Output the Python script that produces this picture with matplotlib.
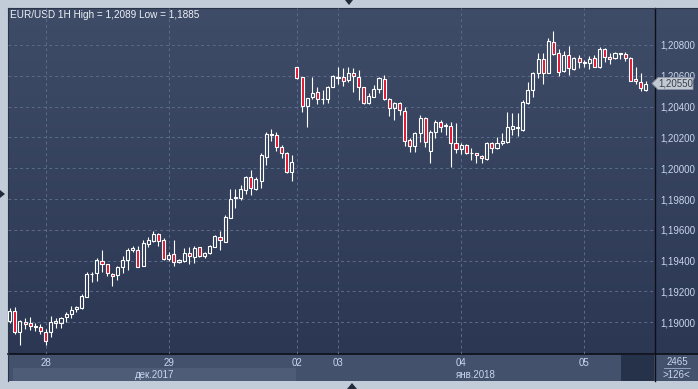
import numpy as np
import matplotlib
matplotlib.use("Agg")
import matplotlib.pyplot as plt
import matplotlib.patches as patches
from matplotlib.colors import LinearSegmentedColormap

plt.rcParams['font.family'] = ['Liberation Sans', 'DejaVu Sans']

# hourly EUR/USD candles
opens = [1.19008, 1.19071, 1.18939, 1.19004, 1.18993, 1.18967, 1.18967, 1.18935, 1.18935, 1.18998,
         1.18993, 1.19034, 1.19052, 1.19086, 1.19090, 1.19164, 1.19311, 1.19318, 1.19396, 1.19376,
         1.19311, 1.19307, 1.19361, 1.19402, 1.19471, 1.19467, 1.19368, 1.19506, 1.19530, 1.19571,
         1.19534, 1.19409, 1.19441, 1.19394, 1.19400, 1.19448, 1.19426, 1.19486, 1.19433, 1.19448,
         1.19491, 1.19552, 1.19523, 1.19679, 1.19805, 1.19805, 1.19859, 1.19945, 1.19865, 1.19919,
         1.20075, 1.20217, 1.20216, 1.20136, 1.20097, 1.19978, 1.20655, 1.20590, 1.20404, 1.20460,
         1.20493, 1.20449, 1.20447, 1.20529, 1.20594, 1.20590, 1.20573, 1.20616, 1.20594, 1.20525,
         1.20421, 1.20465, 1.20512, 1.20577, 1.20447, 1.20393, 1.20421, 1.20373, 1.20183, 1.20146,
         1.20226, 1.20323, 1.20114, 1.20237, 1.20297, 1.20278, 1.20274, 1.20161, 1.20122, 1.20150,
         1.20096, 1.20096, 1.20079, 1.20057, 1.20161, 1.20129, 1.20161, 1.20172, 1.20252, 1.20259,
         1.20248, 1.20421, 1.20511, 1.20615, 1.20706, 1.20620, 1.20817, 1.20745, 1.20630, 1.20734,
         1.20641, 1.20713, 1.20683, 1.20680, 1.20717, 1.20659, 1.20773, 1.20721, 1.20713, 1.20741,
         1.20741, 1.20717, 1.20579, 1.20561, 1.20507]
highs = [1.19090, 1.19102, 1.19015, 1.19026, 1.19036, 1.18998, 1.18987, 1.18957, 1.19043, 1.19030,
         1.19036, 1.19065, 1.19104, 1.19106, 1.19181, 1.19329, 1.19324, 1.19415, 1.19469, 1.19380,
         1.19318, 1.19367, 1.19430, 1.19480, 1.19495, 1.19495, 1.19534, 1.19552, 1.19593, 1.19578,
         1.19545, 1.19454, 1.19534, 1.19413, 1.19482, 1.19491, 1.19495, 1.19491, 1.19459, 1.19504,
         1.19567, 1.19593, 1.19697, 1.19865, 1.19863, 1.19891, 1.19950, 1.19989, 1.19945, 1.20101,
         1.20233, 1.20255, 1.20233, 1.20151, 1.20103, 1.20086, 1.20658, 1.20594, 1.20456, 1.20590,
         1.20529, 1.20508, 1.20534, 1.20605, 1.20655, 1.20648, 1.20659, 1.20648, 1.20638, 1.20529,
         1.20486, 1.20540, 1.20594, 1.20605, 1.20454, 1.20432, 1.20432, 1.20399, 1.20194, 1.20237,
         1.20345, 1.20334, 1.20248, 1.20313, 1.20313, 1.20295, 1.20302, 1.20291, 1.20161, 1.20157,
         1.20129, 1.20101, 1.20085, 1.20172, 1.20172, 1.20204, 1.20226, 1.20362, 1.20356, 1.20356,
         1.20442, 1.20561, 1.20626, 1.20745, 1.20745, 1.20847, 1.20890, 1.20773, 1.20760, 1.20795,
         1.20723, 1.20734, 1.20702, 1.20730, 1.20734, 1.20788, 1.20778, 1.20745, 1.20756, 1.20745,
         1.20752, 1.20721, 1.20659, 1.20615, 1.20566]
lows = [1.18995, 1.18922, 1.18850, 1.18957, 1.18950, 1.18944, 1.18922, 1.18850, 1.18907, 1.18965,
        1.18965, 1.19004, 1.19026, 1.19069, 1.19086, 1.19164, 1.19264, 1.19270, 1.19329, 1.19300,
        1.19238, 1.19274, 1.19322, 1.19339, 1.19458, 1.19360, 1.19365, 1.19491, 1.19523, 1.19495,
        1.19404, 1.19400, 1.19368, 1.19387, 1.19394, 1.19379, 1.19383, 1.19426, 1.19419, 1.19443,
        1.19487, 1.19469, 1.19520, 1.19676, 1.19740, 1.19794, 1.19833, 1.19826, 1.19859, 1.19869,
        1.20021, 1.20177, 1.20112, 1.20069, 1.19971, 1.19917, 1.20580, 1.20363, 1.20270, 1.20447,
        1.20415, 1.20415, 1.20426, 1.20525, 1.20545, 1.20534, 1.20562, 1.20493, 1.20443, 1.20417,
        1.20417, 1.20460, 1.20486, 1.20443, 1.20339, 1.20313, 1.20345, 1.20144, 1.20107, 1.20107,
        1.20172, 1.20140, 1.20031, 1.20194, 1.20237, 1.20215, 1.20010, 1.20096, 1.20092, 1.20092,
        1.20053, 1.20031, 1.20031, 1.20053, 1.20101, 1.20122, 1.20150, 1.20161, 1.20215, 1.20209,
        1.20243, 1.20415, 1.20464, 1.20587, 1.20550, 1.20615, 1.20734, 1.20598, 1.20622, 1.20605,
        1.20639, 1.20648, 1.20659, 1.20641, 1.20659, 1.20648, 1.20691, 1.20674, 1.20706, 1.20706,
        1.20695, 1.20568, 1.20550, 1.20501, 1.20501]
closes = [1.19073, 1.18939, 1.19011, 1.18987, 1.18976, 1.18978, 1.18944, 1.18881, 1.19000, 1.19008,
          1.19026, 1.19054, 1.19082, 1.19099, 1.19171, 1.19311, 1.19316, 1.19404, 1.19378, 1.19322,
          1.19298, 1.19359, 1.19402, 1.19467, 1.19480, 1.19361, 1.19513, 1.19534, 1.19571, 1.19530,
          1.19409, 1.19437, 1.19389, 1.19402, 1.19448, 1.19430, 1.19482, 1.19430, 1.19448, 1.19495,
          1.19560, 1.19534, 1.19681, 1.19800, 1.19811, 1.19863, 1.19945, 1.19870, 1.19928, 1.20086,
          1.20222, 1.20225, 1.20136, 1.20097, 1.19978, 1.20043, 1.20584, 1.20404, 1.20454, 1.20486,
          1.20447, 1.20451, 1.20529, 1.20601, 1.20584, 1.20568, 1.20616, 1.20599, 1.20529, 1.20421,
          1.20469, 1.20512, 1.20584, 1.20447, 1.20389, 1.20421, 1.20378, 1.20176, 1.20146, 1.20230,
          1.20323, 1.20172, 1.20237, 1.20302, 1.20269, 1.20274, 1.20161, 1.20122, 1.20150, 1.20096,
          1.20101, 1.20083, 1.20064, 1.20161, 1.20129, 1.20166, 1.20176, 1.20265, 1.20274, 1.20265,
          1.20432, 1.20511, 1.20615, 1.20706, 1.20615, 1.20825, 1.20739, 1.20626, 1.20734, 1.20648,
          1.20717, 1.20687, 1.20687, 1.20708, 1.20659, 1.20773, 1.20719, 1.20706, 1.20745, 1.20745,
          1.20713, 1.20568, 1.20568, 1.20518, 1.20550]

day_pos = [7, 31, 56, 64, 88, 112]
day_labels = ["28", "29", "02", "03", "04", "05"]
price_ticks = [1.190, 1.192, 1.194, 1.196, 1.198, 1.200, 1.202, 1.204, 1.206, 1.208]
title = "EUR/USD 1H High = 1,2089 Low = 1,1885"
months = ["дек.2017", "янв.2018"]

W, H = 698, 389
fig = plt.figure(figsize=(W / 100, H / 100), dpi=100)
fig.patch.set_facecolor("#c2ccd8")

# background layer in pixel coords
bg = fig.add_axes([0, 0, 1, 1], zorder=0)
bg.set_xlim(0, W)
bg.set_ylim(H, 0)
bg.axis("off")
grad = LinearSegmentedColormap.from_list("g", ["#3f4c67", "#2b3753"])
bg.imshow(np.linspace(0, 1, 256).reshape(-1, 1), cmap=grad, extent=(8, W, 354, 8), aspect="auto")
bg.add_patch(patches.Rectangle((8, 354), 690, 27, fc="#43516d", ec="none"))
bg.add_patch(patches.Rectangle((13, 368), 283, 13, fc="#4e5c78", ec="none"))
bg.add_patch(patches.Rectangle((621, 355), 33, 26, fc="#26324a", ec="none"))
bg.plot([8, W], [354, 354], color="#0c1018", lw=1.2)
bg.plot([655, 655], [8, 381], color="#0c1018", lw=1.0)
bg.plot([8, W], [8, 8], color="#2a3347", lw=0.8)
bg.plot([8, 8], [8, 381], color="#2a3347", lw=0.8)
bg.plot([664, 690], [368, 368], color="#9fb0cc", lw=0.6)
for tri in ([(345, 0), (353, 0), (349, 5)], [(0, 190), (0, 198), (5, 194)], [(347, 389), (357, 389), (352, 383)]):
    bg.add_patch(patches.Polygon(tri, closed=True, fc="#222b3c", ec="none"))

txt = dict(color="#c9d6ec", fontsize=7, va="center")
bg.text(10, 15, title, ha="left", color="#eef2f8", fontsize=7.2, va="center")
bg.text(155, 374.5, months[0], ha="center", **txt)
bg.text(476, 374.5, months[1], ha="center", **txt)
bg.text(677, 362, "2465", ha="center", **txt)
bg.text(676, 375, ">126<", ha="center", **txt)

# price chart
ax = fig.add_axes([8 / W, (H - 354) / H, 647 / W, 346 / H], zorder=1)
ax.set_facecolor("none")
for s in ax.spines.values():
    s.set_visible(False)
ax.set_xlim(-0.33, 125.8)
ax.set_ylim(1.187943, 1.210401)

ax.set_yticks(price_ticks)
ax.set_yticklabels([f"{v:.5f}".replace(".", ",") for v in price_ticks])
ax.yaxis.tick_right()
ax.set_xticks(day_pos)
ax.set_xticklabels(day_labels)
ax.tick_params(length=0, colors="#c9d6ec", labelsize=7)
ax.tick_params(axis="y", pad=4)
ax.tick_params(axis="x", pad=3)
ax.grid(True, color="#5b6b8b", linestyle=(0, (3, 3)), linewidth=0.7)
ax.set_axisbelow(True)

red = "#e0102c"
for i, (o, h, l, c) in enumerate(zip(opens, highs, lows, closes)):
    top, bot = max(o, c), min(o, c)
    ax.vlines(i, top, h, color="white", lw=0.8, zorder=3)
    ax.vlines(i, l, bot, color="white", lw=0.8, zorder=3)
    fc = red if c < o else "none"
    ax.add_patch(patches.Rectangle((i - 0.3, bot), 0.6, max(top - bot, 0.00002),
                                   fc=fc, ec="white", lw=0.8, zorder=4))

# last price tag on the right scale
over = fig.add_axes([0, 0, 1, 1], zorder=5)
over.set_xlim(0, W)
over.set_ylim(H, 0)
over.axis("off")
over.set_facecolor("none")
last = closes[-1]
py = over.transData.inverted().transform(ax.transData.transform((0, last)))[1]
over.add_patch(patches.Polygon([(652, py), (658, py - 6), (693, py - 6), (693, py + 6), (658, py + 6)],
                               closed=True, fc="#c3c9d2", ec="#8e97a6", lw=0.6))
over.text(676, py, f"{last:.5f}".replace(".", ","), ha="center", va="center", color="#39404e", fontsize=7)

fig.savefig("out.png", dpi=100)
